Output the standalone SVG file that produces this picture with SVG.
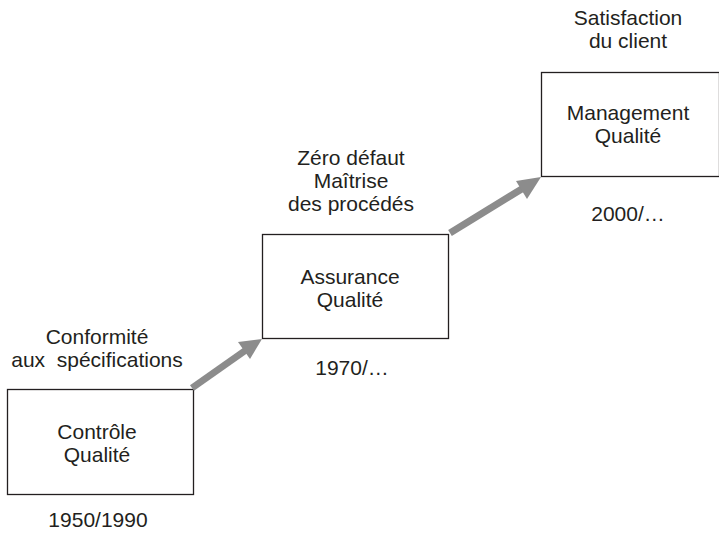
<svg xmlns="http://www.w3.org/2000/svg" width="719" height="533" viewBox="0 0 719 533">
<style>
  .box { fill: #ffffff; stroke: #231f20; stroke-width: 1.3; }
  .t { font-family: "Liberation Sans", Arial, sans-serif; font-size: 21px; fill: #231f20; text-anchor: middle; }
  .conn { stroke: #8c8c8c; stroke-width: 7; fill: none; }
</style>
<rect width="719" height="533" fill="#ffffff"/>
<g id="controle">
  <rect class="box" x="7.5" y="389.5" width="186" height="105"/>
  <text class="t" x="97" y="344">Conformité</text>
  <text class="t" x="97" y="367" xml:space="preserve">aux  spécifications</text>
  <text class="t" x="97" y="439">Contrôle</text>
  <text class="t" x="97" y="462">Qualité</text>
  <text class="t" x="98" y="527">1950/1990</text>
</g>
<g id="assurance">
  <rect class="box" x="262.5" y="234.5" width="186" height="104"/>
  <text class="t" x="351" y="165">Zéro défaut</text>
  <text class="t" x="351" y="188">Maîtrise</text>
  <text class="t" x="351" y="211">des procédés</text>
  <text class="t" x="350" y="284">Assurance</text>
  <text class="t" x="350" y="307">Qualité</text>
  <text class="t" x="352" y="375">1970/…</text>
</g>
<g id="management">
  <rect class="box" x="541.5" y="72.5" width="178" height="104"/>
  <text class="t" x="628" y="25">Satisfaction</text>
  <text class="t" x="628" y="48">du client</text>
  <text class="t" x="628" y="120">Management</text>
  <text class="t" x="628" y="143">Qualité</text>
  <text class="t" x="628" y="221">2000/…</text>
</g>
<g id="connectors">
  <path class="conn" d="M192,388 L246,350" />
  <polygon points="262,339 238,342 250,359" fill="#8c8c8c"/>
  <path class="conn" d="M450,233 L525,187" />
  <polygon points="541,177 516,181 527,199" fill="#8c8c8c"/>
</g>
</svg>
